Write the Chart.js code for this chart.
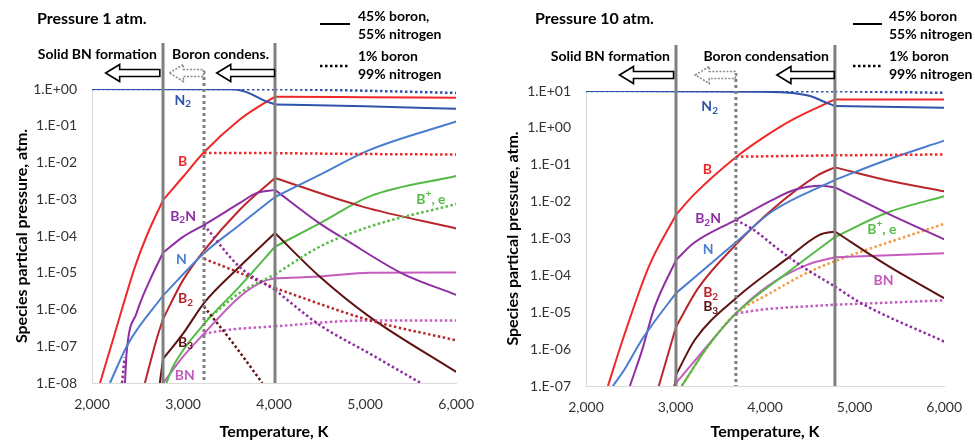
<!DOCTYPE html>
<html>
<head>
<meta charset="utf-8">
<script src="https://cdn.jsdelivr.net/npm/chart.js@4.4.1/dist/chart.umd.min.js"></script>
<style>
  body { margin: 0; background: #fff; }
  #wrap { position: relative; width: 975px; height: 441px; }
  canvas { position: absolute; top: 0; }
</style>
</head>
<body>
<div id="wrap">
  <canvas id="c1" width="487" height="441" style="left:0"></canvas>
  <canvas id="c2" width="488" height="441" style="left:487px"></canvas>
</div>
<script>
// Axes
const xTickLabels = ['2,000', '3,000', '4,000', '5,000', '6,000'];
const yTickLabels1 = ['1.E-08', '1.E-07', '1.E-06', '1.E-05', '1.E-04', '1.E-03', '1.E-02', '1.E-01', '1.E+00'];
const yTickLabels2 = ['1.E-07', '1.E-06', '1.E-05', '1.E-04', '1.E-03', '1.E-02', '1.E-01', '1.E+00', '1.E+01'];

// Limites de phase (K) : traits pleins, trait pointillé
const bounds1 = [2780, 4010];
const boundDot1 = 3230;
const bounds2 = [3005, 4780];
const boundDot2 = 3674;

// ---- Pression 1 atm : [température K, pression atm] ----
const p1N2 = [[2000, 1.0], [3500, 0.98], [3650, 0.9], [3730, 0.76], [3880, 0.5], [4010, 0.38], [5000, 0.34], [6000, 0.29]];
const p1N2dot = [[2000, 1.0], [4010, 0.99], [5000, 0.9], [6000, 0.78]];
const p1B = [[2088, 1e-8], [2250, 2.2e-7], [2470, 1.4e-5], [2600, 1.0e-4], [2780, 9.5e-4], [3000, 4.1e-3], [3230, 1.9e-2], [3620, 0.145], [3820, 0.32], [4010, 0.62], [5000, 0.6], [6000, 0.58]];
const p1Bdot = [[3230, 1.8e-2], [4010, 1.8e-2], [5000, 1.7e-2], [6000, 1.65e-2]];
const p1N = [[2197, 1e-8], [2400, 1.2e-7], [2780, 2.4e-6], [3230, 3.4e-5], [3620, 2.0e-4], [4010, 1.15e-3], [4500, 4.6e-3], [5050, 2.2e-2], [6000, 0.13]];
const p1B2N = [[2362, 1e-8], [2380, 6.5e-8], [2490, 8e-7], [2636, 6.3e-6], [2780, 3.5e-5], [3000, 9.5e-5], [3230, 2.0e-4], [3620, 7.8e-4], [3800, 1.45e-3], [4010, 1.8e-3], [4500, 2.2e-4], [4790, 7.8e-5], [5410, 9.5e-6], [6000, 2.5e-6]];
const p1B2Ndot = [[2330, 1e-8], [2358, 5e-8], [2400, null], [3230, 2.0e-4], [3620, 1.45e-5], [4010, 3.4e-6], [4500, 3.8e-7], [5050, 6.3e-8], [5610, 1e-8]];
const p1B2 = [[2581, 1e-8], [2708, 1.5e-7], [2780, 5.5e-7], [3000, 6.3e-6], [3230, 4e-5], [3620, 5.1e-4], [4010, 3.8e-3], [4970, 6.3e-4], [6000, 1.6e-4]];
const p1B2dot = [[3230, 2.4e-5], [3620, 1.0e-5], [4010, 3.8e-6], [5050, 5.1e-7], [6000, 1.45e-7]];
const p1B3 = [[2745, 1e-8], [2780, 4.5e-8], [3000, 2.2e-7], [3230, 1.5e-6], [3620, 1.45e-5], [4010, 1.2e-4], [4500, 7.9e-6], [5050, 6.3e-7], [6000, 2.0e-8]];
const p1B3dot = [[3230, 1.2e-6], [3550, 1.2e-7], [3870, 1e-8]];
const p1Bp = [[2818, 1e-8], [2890, 2.8e-8], [3230, 4e-7], [3620, 4.2e-6], [4010, 5.1e-5], [4500, 2.2e-4], [5050, 1.2e-3], [6000, 4.3e-3]];
const p1Bpdot = [[3230, 4.5e-7], [3620, 2.8e-6], [4010, 9e-6], [4500, 5.1e-5], [5050, 1.8e-4], [6000, 7.4e-4]];
const p1BN = [[2782, 1e-8], [3000, 5.2e-8], [3230, 2.2e-7], [3620, 2.2e-6], [3880, 5.8e-6], [4010, 7.1e-6], [4500, 7.9e-6], [5050, 1.0e-5], [6000, 1.02e-5]];
const p1BNdot = [[3230, 2.2e-7], [3500, 2.8e-7], [4010, 3.5e-7], [5000, 5e-7], [6000, 5e-7]];

// ---- Pression 10 atm ----
const p2N2 = [[2000, 10], [3960, 9.6], [4330, 8.7], [4520, 7.1], [4660, 5.1], [4780, 3.9], [6000, 3.5]];
const p2N2dot = [[2000, 10], [4780, 9.9], [6000, 8.9]];
const p2B = [[2245, 1e-7], [2410, 1.8e-6], [2703, 1.75e-4], [3005, 4.4e-3], [3200, 1.5e-2], [3674, 0.16], [3967, 0.52], [4333, 1.8], [4780, 5.9], [6000, 5.9]];
const p2Bdot = [[3674, 0.165], [4780, 0.18], [6000, 0.19]];
const p2N = [[2300, 1e-7], [2430, 2.8e-7], [2600, 1.45e-6], [2722, 4e-6], [3005, 3.3e-5], [3674, 7.9e-4], [4077, 5.4e-3], [4780, 3.9e-2], [5360, 0.135], [6000, 0.45]];
const p2B2N = [[2490, 1e-7], [2630, 1e-6], [2760, 1.25e-5], [3005, 2.6e-4], [3200, 7.4e-4], [3674, 3.2e-3], [4077, 1.1e-2], [4333, 2.1e-2], [4627, 2.7e-2], [4780, 2.45e-2], [5360, 4.9e-3], [6000, 9.5e-4]];
const p2B2Ndot = [[3674, 3.2e-3], [3876, 1.7e-3], [4100, 6.3e-4], [4390, 1.9e-4], [4780, 5e-5], [5066, 1.8e-5], [6000, 1.6e-6]];
const p2B2 = [[2813, 1e-7], [3005, 4e-6], [3253, 4.5e-5], [3674, 6.8e-4], [4077, 6e-3], [4590, 5.2e-2], [4780, 8.5e-2], [5360, 3.8e-2], [6000, 1.9e-2]];
const p2B3 = [[2995, 1e-7], [3005, 2e-7], [3216, 1.8e-6], [3674, 2.4e-5], [4242, 2.8e-4], [4608, 1.25e-3], [4780, 1.55e-3], [5360, 1.9e-4], [6000, 2.4e-5]];
const p2Bp = [[3069, 1e-7], [3363, 1.2e-6], [3674, 9.3e-6], [4242, 1.15e-4], [4780, 1.1e-3], [5360, 5e-3], [6000, 1.4e-2]];
const p2Bpdot = [[3069, 1e-7], [3363, 1.2e-6], [3674, 9.3e-6], [4022, 2.95e-5], [4462, 1.15e-4], [4755, 2.3e-4], [6000, 2.5e-3]];
const p2BN = [[2978, 1e-7], [3289, 7.9e-7], [3674, 9.3e-6], [4022, 5e-5], [4462, 1.9e-4], [4780, 3.1e-4], [6000, 4e-4]];
const p2BNdot = [[3674, 9.3e-6], [4000, 1.2e-5], [4780, 1.6e-5], [6000, 2.1e-5]];

// Étiquettes des courbes : [texte, K, atm, espèce]
const labels1 = [['N_2', 2997, 0.5, 'N2'], ['B', 2994, 1.05e-2, 'B'], ['B_2N', 3000, 3.5e-4, 'B2N'], ['N', 2983, 2.3e-5, 'N'],
                 ['B_2', 3027, 2.0e-6, 'B2'], ['B_3', 3027, 1.3e-7, 'B3'], ['BN', 3019, 1.65e-8, 'BN'], ['B^+, e', 5723, 1.0e-3, 'Bp']];
const labels2 = [['N_2', 3381, 3.7, 'N2'], ['B', 3355, 7.6e-2, 'B'], ['B_2N', 3363, 3.5e-3, 'B2N'], ['N', 3363, 4.9e-4, 'N'],
                 ['B_2', 3392, 3.4e-5, 'B2'], ['B_3', 3392, 1.4e-5, 'B3'], ['B^+, e', 5305, 1.8e-3, 'Bp'], ['BN', 5322, 7.2e-5, 'BN']];

// Flèches : [pointe K, queue K, pointillée]
const arrows1 = [[2150, 2745, false], [2850, 3225, true], [3370, 4005, false]];
const arrows2 = [[2374, 2978, false], [3220, 3668, true], [4132, 4772, false]];

// Couleurs
const colors = {
    N2: '#2f52ac', N: '#4a7ed0', B: '#f02828', B2N: '#8f2ea3', B2: '#b9262b',
    B3: '#5e1212', Bp: '#55bb46', BN: '#c45cc0', orange: '#f59a3e'
};

// Découpe une série aux limites de phase pour garder les cassures
function pieces(arr, cuts) {
    const out = [];
    let cur = [];
    arr.forEach((p, i) => {
        cur.push(p);
        if (i > 0 && i < arr.length - 1 && cuts.includes(p[0])) {
            out.push(cur);
            cur = [p];
        }
    });
    out.push(cur);
    return out;
}

function buildDatasets(series, cuts) {
    const ds = [];
    series.forEach(s => {
        pieces(s.data, cuts).forEach(piece => {
            ds.push({
                data: piece.map(p => ({ x: p[0], y: p[1] })),
                borderColor: s.color,
                borderWidth: s.dotted ? 2.5 : 2,
                borderDash: s.dotted ? [2.5, 2.5] : [],
                pointRadius: 0,
                cubicInterpolationMode: 'monotone',
                spanGaps: false,
                fill: false
            });
        });
    });
    return ds;
}

// Texte avec indices (_) et exposants (^)
function drawRich(ctx, txt, cx, cy, color) {
    const parts = [];
    for (let i = 0; i < txt.length; i++) {
        const c = txt[i];
        if ((c === '_' || c === '^') && i + 1 < txt.length) { parts.push([txt[i + 1], c]); i++; }
        else parts.push([c, '']);
    }
    const fontOf = p => p[1] ? 'bold 10px Lato' : 'bold 14px Lato';
    let w = 0;
    parts.forEach(p => { ctx.font = fontOf(p); w += ctx.measureText(p[0]).width; });
    let x = cx - w / 2;
    ctx.fillStyle = color;
    ctx.textAlign = 'left';
    ctx.textBaseline = 'middle';
    parts.forEach(p => {
        ctx.font = fontOf(p);
        const dy = p[1] === '_' ? 4 : (p[1] === '^' ? -5 : 0);
        ctx.fillText(p[0], x, cy + dy);
        x += ctx.measureText(p[0]).width;
    });
}

// Flèche creuse vers la gauche
function drawArrow(ctx, xTip, xTail, y, dashed) {
    const hl = 14, hh = 8.5, sh = 3.5;
    ctx.save();
    ctx.beginPath();
    ctx.moveTo(xTip, y);
    ctx.lineTo(xTip + hl, y - hh);
    ctx.lineTo(xTip + hl, y - sh);
    ctx.lineTo(xTail, y - sh);
    ctx.lineTo(xTail, y + sh);
    ctx.lineTo(xTip + hl, y + sh);
    ctx.lineTo(xTip + hl, y + hh);
    ctx.closePath();
    ctx.fillStyle = '#fff';
    ctx.fill();
    ctx.lineWidth = 1.6;
    ctx.strokeStyle = dashed ? '#8a8a8a' : '#000';
    ctx.setLineDash(dashed ? [2, 1.5] : []);
    ctx.stroke();
    ctx.restore();
}

// Décor : titre, légende, limites de phase, flèches, étiquettes
function makeDecor(panel) {
    return {
        id: 'decor',
        afterDatasetsDraw(chart) {
            const ctx = chart.ctx;
            const xs = chart.scales.x, ys = chart.scales.y;
            const top = chart.chartArea.top, bottom = chart.chartArea.bottom;
            ctx.save();

            // limites verticales
            ctx.strokeStyle = '#808080';
            ctx.lineWidth = 3;
            panel.bounds.forEach(b => {
                const x = xs.getPixelForValue(b);
                ctx.beginPath(); ctx.moveTo(x, top - 46); ctx.lineTo(x, bottom); ctx.stroke();
            });
            ctx.setLineDash([3, 3]);
            const xd = xs.getPixelForValue(panel.boundDot);
            ctx.beginPath(); ctx.moveTo(xd, top - 18); ctx.lineTo(xd, bottom); ctx.stroke();
            ctx.setLineDash([]);

            // flèches
            panel.arrows.forEach(a => drawArrow(ctx, xs.getPixelForValue(a[0]), xs.getPixelForValue(a[1]), top - 16, a[2]));

            // zones
            ctx.fillStyle = '#000';
            ctx.font = 'bold 14px Lato';
            ctx.textAlign = 'right';
            ctx.textBaseline = 'middle';
            panel.zones.forEach((z, i) => ctx.fillText(z, xs.getPixelForValue(panel.bounds[i]) - 6, top - 35));

            // titre
            ctx.textAlign = 'left';
            ctx.font = 'bold 16px Lato';
            ctx.fillText(panel.title, panel.titleX, 19);

            // légende
            const lg = panel.legend;
            ctx.strokeStyle = '#000';
            ctx.lineWidth = 2;
            ctx.beginPath(); ctx.moveTo(lg.x0, 24); ctx.lineTo(lg.x1, 24); ctx.stroke();
            ctx.lineWidth = 2.5;
            ctx.setLineDash([2.5, 2.5]);
            ctx.beginPath(); ctx.moveTo(lg.x0, 66); ctx.lineTo(lg.x1, 66); ctx.stroke();
            ctx.setLineDash([]);
            ctx.font = 'bold 14px Lato';
            lg.text.forEach((t, i) => ctx.fillText(t, lg.tx, [16, 34, 56, 74][i]));

            // étiquettes des courbes
            panel.labels.forEach(l => drawRich(ctx, l[0], xs.getPixelForValue(l[1]), ys.getPixelForValue(l[2]), colors[l[3]]));
            ctx.restore();
        }
    };
}

function makeChart(id, panel) {
    const tickVals = panel.yLabels.map((t, i) => panel.yMin * Math.pow(10, i));
    return new Chart(document.getElementById(id), {
        type: 'line',
        data: { datasets: buildDatasets(panel.series, panel.bounds) },
        options: {
            responsive: false,
            animation: false,
            devicePixelRatio: 1,
            layout: { padding: { top: panel.padTop, right: panel.padRight, left: 0, bottom: 0 } },
            plugins: { legend: { display: false }, tooltip: { enabled: false } },
            scales: {
                x: {
                    type: 'linear', min: 2000, max: 6000,
                    afterFit: s => { s.height = panel.xHeight; },
                    grid: { display: false, drawTicks: false },
                    border: { display: true, color: '#d9d9d9', width: 1 },
                    ticks: { stepSize: 1000, padding: 13, color: '#333', font: { family: 'Lato', size: 14 },
                             callback: (v, i) => xTickLabels[i] },
                    title: { display: true, text: 'Temperature, K', color: '#000',
                             font: { family: 'Lato', size: 16, weight: 'bold' }, padding: { top: 0, bottom: 0 } }
                },
                y: {
                    type: 'logarithmic', min: panel.yMin, max: panel.yMax,
                    afterFit: s => { s.width = panel.yWidth; },
                    afterBuildTicks: s => { s.ticks = tickVals.map(v => ({ value: v })); },
                    grid: { display: false, drawTicks: false },
                    border: { display: true, color: '#d9d9d9', width: 1 },
                    ticks: { padding: 15, color: '#333', font: { family: 'Lato', size: 14 },
                             callback: (v, i) => panel.yLabels[i] },
                    title: { display: true, text: 'Species partical pressure, atm.', color: '#000',
                             font: { family: 'Lato', size: 16, weight: 'bold' }, padding: { top: panel.yTitlePad, bottom: 0 } }
                }
            }
        },
        plugins: [makeDecor(panel)]
    });
}

makeChart('c1', {
    title: 'Pressure 1 atm.', titleX: 37,
    yMin: 1e-8, yMax: 1, yLabels: yTickLabels1,
    padTop: 89, padRight: 30, yWidth: 92, xHeight: 58, yTitlePad: 12,
    bounds: bounds1, boundDot: boundDot1, arrows: arrows1,
    zones: ['Solid BN formation', 'Boron condens.'],
    legend: { x0: 320, x1: 350, tx: 358, text: ['45% boron,', '55% nitrogen', '1% boron', '99% nitrogen'] },
    labels: labels1,
    series: [
        { data: p1N2dot, color: colors.N2, dotted: true },
        { data: p1Bdot, color: colors.B, dotted: true },
        { data: p1B2Ndot, color: colors.B2N, dotted: true },
        { data: p1B2dot, color: colors.B2, dotted: true },
        { data: p1B3dot, color: colors.B3, dotted: true },
        { data: p1Bpdot, color: colors.Bp, dotted: true },
        { data: p1BNdot, color: colors.BN, dotted: true },
        { data: p1N2, color: colors.N2 },
        { data: p1B, color: colors.B },
        { data: p1N, color: colors.N },
        { data: p1B2N, color: colors.B2N },
        { data: p1B2, color: colors.B2 },
        { data: p1B3, color: colors.B3 },
        { data: p1Bp, color: colors.Bp },
        { data: p1BN, color: colors.BN }
    ]
});

makeChart('c2', {
    title: 'Pressure 10 atm.', titleX: 48,
    yMin: 1e-7, yMax: 10, yLabels: yTickLabels2,
    padTop: 91, padRight: 25, yWidth: 99, xHeight: 55, yTitlePad: 16,
    bounds: bounds2, boundDot: boundDot2, arrows: arrows2,
    zones: ['Solid BN formation', 'Boron condensation'],
    legend: { x0: 366, x1: 395, tx: 402, text: ['45% boron', '55% nitrogen', '1% boron', '99% nitrogen'] },
    labels: labels2,
    series: [
        { data: p2N2dot, color: colors.N2, dotted: true },
        { data: p2Bdot, color: colors.B, dotted: true },
        { data: p2B2Ndot, color: colors.B2N, dotted: true },
        { data: p2BNdot, color: colors.BN, dotted: true },
        { data: p2N2, color: colors.N2 },
        { data: p2B, color: colors.B },
        { data: p2N, color: colors.N },
        { data: p2B2N, color: colors.B2N },
        { data: p2B2, color: colors.B2 },
        { data: p2B3, color: colors.B3 },
        { data: p2Bp, color: colors.Bp },
        { data: p2BN, color: colors.BN },
        { data: p2Bpdot, color: colors.orange, dotted: true }
    ]
});
</script>
</body>
</html>
